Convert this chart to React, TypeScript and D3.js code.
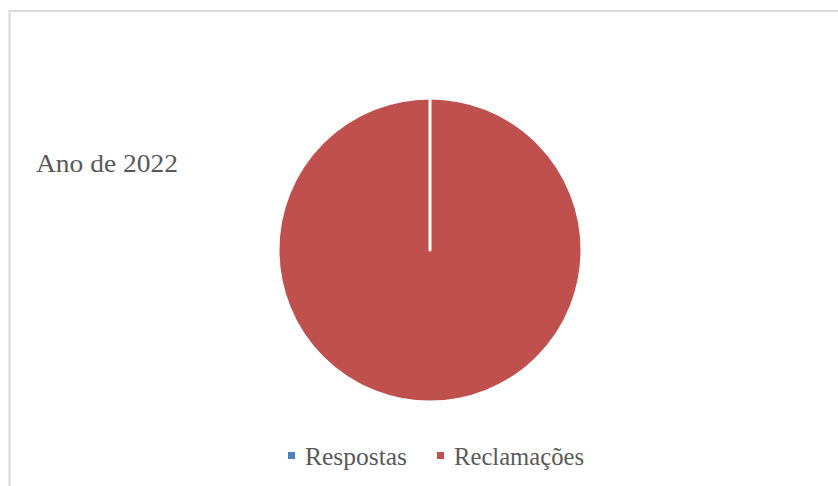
import React from "react";
import * as d3 from "d3";

const categories = ["Respostas", "Reclamações"];
const values = [0, 100];
const colors = ["#4F81BD", "#C0504D"];
const title = "Ano de 2022";

export default function App() {
  const W = 838, H = 486;
  const cx = 430, cy = 250, r = 152;
  const pie = d3.pie<number>().sort(null).value((d) => d);
  const arcs = pie(values);
  const arc = d3.arc<d3.PieArcDatum<number>>().innerRadius(0).outerRadius(r);
  const font = "'Liberation Serif', 'DejaVu Serif', serif";
  const legendX = [288, 437];
  const legendLen = [102, 130];
  return (
    <svg width={W} height={H} style={{ position: "absolute", left: 0, top: 0, display: "block", background: "#fff" }}>
      <rect x={9.5} y={11} width={W} height={H} fill="#fff" stroke="#d9d9d9" strokeWidth={2} />
      <text x={36} y={172} fontFamily={font} fontSize={26} fill="#595959" textLength={142} lengthAdjust="spacingAndGlyphs">{title}</text>
      <g transform={`translate(${cx},${cy})`}>
        {arcs.slice().reverse().map((a, i) => (
          <path key={i} d={arc(a) || ""} fill={colors[a.index]} stroke="#fff" strokeWidth={3} strokeLinejoin="round" />
        ))}
      </g>
      {categories.map((c, i) => (
        <g key={c} transform={`translate(${legendX[i]},0)`}>
          <rect x={0} y={452} width={7} height={7} fill={colors[i]} />
          <text x={17} y={465} fontFamily={font} fontSize={25} fill="#595959" textLength={legendLen[i]} lengthAdjust="spacingAndGlyphs">{c}</text>
        </g>
      ))}
    </svg>
  );
}
